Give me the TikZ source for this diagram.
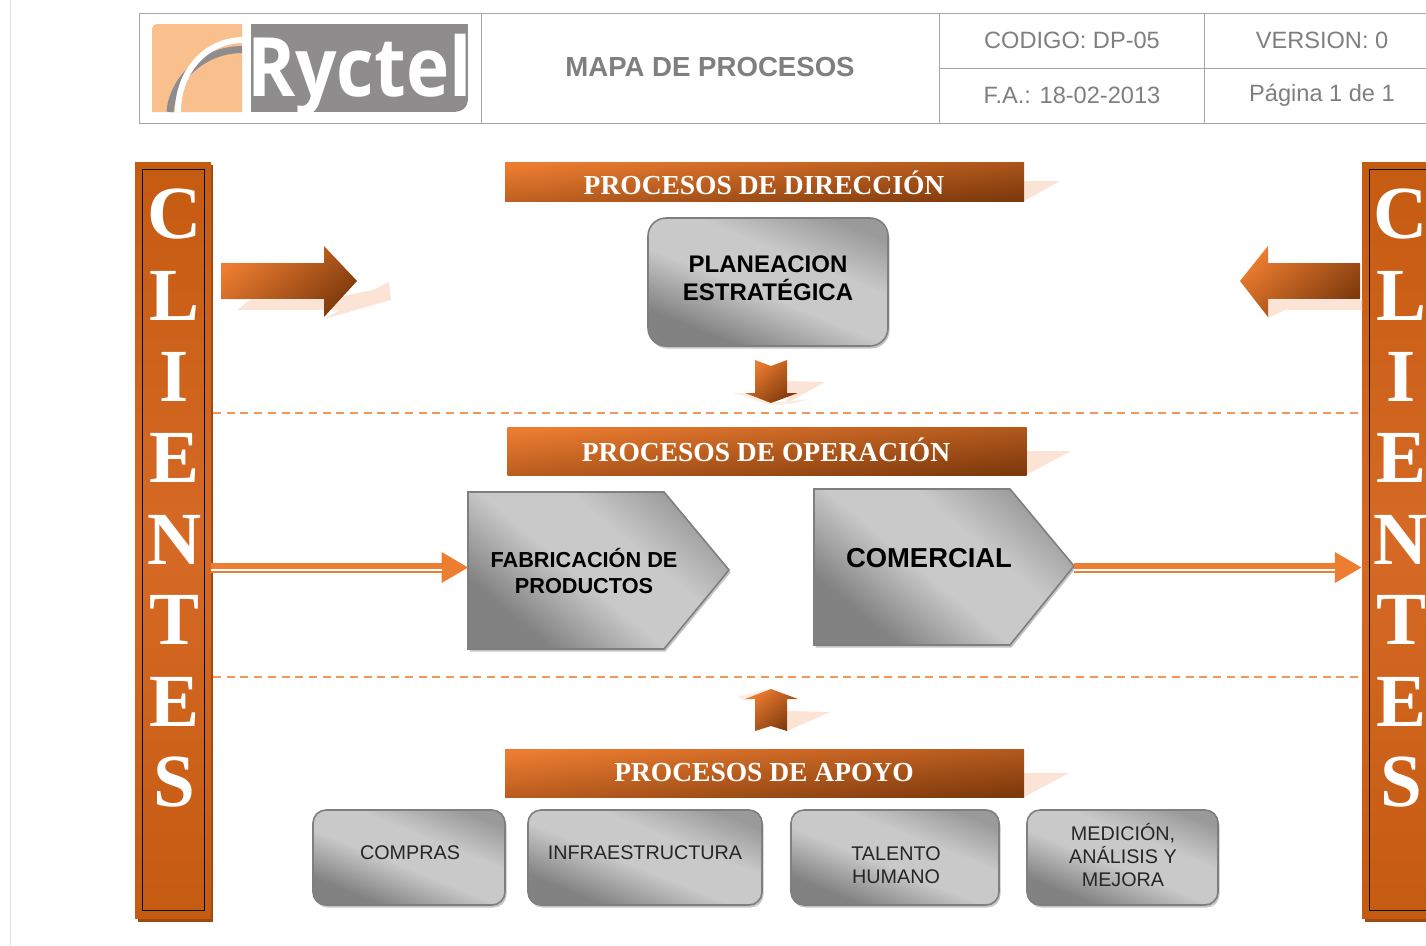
\documentclass[tikz,border=0pt]{standalone}
\usepackage{fontspec}
\setmainfont{Liberation Serif}
\newfontfamily\arialfont{Liberation Sans}
\newfontfamily\logofont{Open Sans}
\usetikzlibrary{arrows.meta, shadows}
\definecolor{orangelight}{HTML}{EC7C30}
\definecolor{orangedark}{HTML}{7F3A0C}
\definecolor{orangebar}{HTML}{C55A11}
\definecolor{orangemid}{HTML}{D66A25}
\definecolor{orangeline}{HTML}{ED7D31}
\definecolor{barshadow}{HTML}{9C4A10}
\definecolor{peach}{HTML}{FBE4D5}
\definecolor{logopeach}{HTML}{F9C08E}
\definecolor{logogray}{HTML}{8E8C8D}
\definecolor{tablegray}{HTML}{A6A6A6}
\definecolor{textgray}{HTML}{7F7F7F}
\definecolor{boxdark}{HTML}{828282}
\definecolor{boxlight}{HTML}{C9C9C9}
\definecolor{boxmid}{HTML}{9A9A9A}
\pgfdeclareverticalshading{grayband}{100bp}{color(0bp)=(boxdark); color(28bp)=(boxdark); color(46bp)=(boxlight); color(60bp)=(boxlight); color(76bp)=(boxmid); color(100bp)=(boxmid)}
\newcommand{\fsz}[1]{\fontsize{#1}{#1}\selectfont}
\tikzset{
	orangefill/.style={left color=orangelight, right color=orangedark, shading angle=40},
	grayfill/.style={shading=grayband, shading angle=-40},
	boxshadow/.style={drop shadow={shadow xshift=1.5pt, shadow yshift=-2.5pt, fill=gray, opacity=0.45}},
	grayedge/.style={draw=textgray, line width=1.6pt},
	graybox/.style={grayfill, shading angle=-22, grayedge, boxshadow, rounded corners=13pt},
	banner/.style={orangefill, shading angle=6, minimum width=519pt, inner sep=0pt},
	bannertext/.style={text=white, font=\bfseries\fsz{27.5}},
	tabletext/.style={text=textgray, font=\arialfont\fsz{23.6}},
	boxtext/.style={text=black!85, align=center, font=\arialfont\fontsize{19.75}{23}\selectfont},
	boldtext/.style={text=black, align=center, font=\arialfont\bfseries},
	sidebar/.style={draw=none, top color=orangebar, bottom color=orangebar, middle color=orangemid, minimum width=76pt, minimum height=756pt, inner sep=0pt},
	sideletter/.style={text=white, font=\bfseries\fsz{75}},
	linkarrow/.style={draw=orangeline, line width=10pt, -{Triangle[length=27pt, width=29pt, fill=orangeline]}},
	linkgap/.style={draw=white, line width=1.2pt},
	divider/.style={draw=orangeline!80, line width=2pt, dash pattern=on 8pt off 5.7pt}
}
\begin{document}
\begin{tikzpicture}[x=1pt, y=-1pt]
	\path[use as bounding box, clip] (0,0) rectangle (1426,945);
	\fill[white] (0,0) rectangle (1426,945);
	\draw[gray!25, line width=1pt] (10,0) -- (10,945);

	% Header table
	\draw[tablegray, line width=0.9pt] (139,13) rectangle (1432,123);
	\foreach \x in {481,939,1204} {
		\draw[tablegray, line width=0.9pt] (\x,13) -- (\x,123);
	}
	\draw[tablegray, line width=0.9pt] (939,68) -- (1432,68);
	\node[tabletext, text=textgray, font=\arialfont\bfseries\fsz{27.6}] (title) at (710,67) {MAPA DE PROCESOS};
	\node[tabletext] (codigo) at (1072,40) {CODIGO: DP-05};
	\node[tabletext] (version) at (1322,40) {VERSION: 0};
	\node[tabletext] (fecha) at (1072,95.5) {F.A.: 18-02-2013};
	\node[tabletext] (pagina) at (1322,95.5) {Página 1 de 1};

	% Logo
	\fill[logopeach] (152,112) -- (152,30) .. controls (152,26) and (154,24) .. (158,24) -- (242,24) -- (242,112) -- cycle;
	\draw[logogray, line width=7pt] (170,112) .. controls (172,82) and (200,50) .. (242,49.5);
	\draw[white, line width=6pt] (178,112) .. controls (178,72) and (205,41) .. (242,40);
	\begin{scope}
		\clip (251,24) -- (468,24) -- (468,98) .. controls (468,108) and (462,112) .. (452,112) -- (251,112) -- cycle;
		\fill[logogray] (251,24) rectangle (468,112);
		\node[anchor=base west, inner sep=0pt, text=white, font=\logofont\bfseries\fsz{82}] (logo) at (247,96) {\scalebox{0.89}[1]{Ryctel}};
	\end{scope}

	% Clients bars
	\fill[barshadow] (137.5,165) rectangle (213,921.5);
	\fill[barshadow] (1364.5,165) rectangle (1440,921.5);
	\node[sidebar] (clientesL) at (173,540) {};
	\node[sidebar] (clientesR) at (1400,540) {};
	\draw[black, line width=0.9pt] (142.5,169) rectangle (204.7,910.7);
	\draw[black, line width=0.9pt] (1369.5,169) rectangle (1440,910.7);
	\foreach \c/\y/\n in {C/214/1, L/296/2, I/377/3, E/458/4, N/540/5, T/620/6, E/702/7, S/782/8} {
		\node[sideletter] (letraL\n) at (174.5,\y) {\c};
		\node[sideletter] (letraR\n) at (1401,\y) {\c};
	}

	% Dividers
	\draw[divider] (213,412.5) -- (1360,412.5);
	\draw[divider] (213,677) -- (1360,677);

	% Banner shadows
	\fill[peach] (1024,181) -- (1060,181) -- (1024,201) -- cycle;
	\fill[peach] (1026,451) -- (1071,451) -- (1026,475) -- cycle;
	\fill[peach] (1024,773) -- (1069,773) -- (1024,797) -- cycle;

	% Banners
	\node[banner, minimum height=39pt] (direccion) at (764.5,181.5) {};
	\node[bannertext] at (764,183) {PROCESOS DE DIRECCIÓN};
	\node[banner, minimum height=48pt] (operacion) at (767,451) {};
	\node[bannertext] at (766,450) {PROCESOS DE OPERACIÓN};
	\node[banner, minimum height=48pt] (apoyo) at (764.5,773) {};
	\node[bannertext] at (764,772.5) {PROCESOS DE APOYO};

	% Side arrows
	\fill[peach] (237,310) -- (250,300) -- (324,300) -- (373,290) -- (389,282) -- (391,300) -- (324,319) -- (340,310) -- cycle;
	\shade[orangefill] (221,263) -- (324,263) -- (324,246) -- (357,281) -- (324,317) -- (324,299) -- (221,299) -- cycle;
	\fill[peach] (1268,318) -- (1285,310) -- (1362,310) -- (1362,300) -- (1268,300) -- cycle;
	\shade[orangefill] (1240,281) -- (1268,246) -- (1268,263) -- (1360,263) -- (1360,299) -- (1268,299) -- (1268,317) -- cycle;

	% Small arrows
	\fill[peach] (787,381) -- (825,382) -- (787,403) -- cycle;
	\fill[peach!70] (733,393) -- (745,393) -- (771,403) -- (810,399) -- (790,404) -- (771,405) -- cycle;
	\shade[orangefill] (755,360) -- (771,366) -- (787,360) -- (787,393) -- (798,393) -- (771,403) -- (745,393) -- (755,393) -- cycle;
	\fill[peach] (787,711) -- (830,712) -- (787,731) -- cycle;
	\fill[peach!70] (737,697) -- (771,688) -- (745,700) -- cycle;
	\shade[orangefill] (771,689) -- (798,699) -- (787,699) -- (787,731) -- (771,726) -- (755,731) -- (755,699) -- (745,699) -- cycle;

	% Strategic box
	\node[graybox, minimum width=240pt, minimum height=128pt, rounded corners=18pt] (planeacion) at (768,282) {};
	\node[boldtext, font=\arialfont\bfseries\fsz{24}] (planeaciontext) at (768,278.5) {PLANEACION\\[4pt]ESTRATÉGICA};

	% Operation pentagons
	\path[grayfill, grayedge, boxshadow] (468,492) -- (664,492) -- (729,570) -- (664,649) -- (468,649) -- cycle;
	\path[grayfill, grayedge, boxshadow] (814,489) -- (1010,489) -- (1074,566) -- (1010,645) -- (814,645) -- cycle;
	\coordinate (fabin) at (468.5,567.5);
	\coordinate (comout) at (1074,567.5);
	\node[boldtext, font=\arialfont\bfseries\fsz{21.7}] (fabricacion) at (584,571) {FABRICACIÓN DE\\[5pt]PRODUCTOS};
	\node[boldtext, font=\arialfont\bfseries\fsz{27.4}] (comercial) at (929,558) {COMERCIAL};

	% Flow arrows
	\draw[linkarrow] (clientesL.east |- fabin) -- (fabin);
	\draw[linkgap] ([yshift=-2.5pt]clientesL.east |- fabin) -- ([xshift=-27pt, yshift=-2.5pt]fabin);
	\draw[linkarrow] (comout) -- (clientesR.west |- comout);
	\draw[linkgap] ([yshift=-2.5pt]comout) -- ([xshift=-27pt, yshift=-2.5pt]clientesR.west |- comout);

	% Support boxes
	\foreach \name/\cx/\w in {compras/409/192, infra/645/234, talento/895/208, medicion/1122.5/191} {
		\node[graybox, minimum width=\w pt, minimum height=95pt] (\name) at (\cx,857.5) {};
	}
	\node[boxtext] (comprastext) at (410,853) {COMPRAS};
	\node[boxtext] (infratext) at (645,853) {INFRAESTRUCTURA};
	\node[boxtext] (talentotext) at (896,865.5) {TALENTO\\HUMANO};
	\node[boxtext] (mediciontext) at (1123,855) {MEDICIÓN,\\ANÁLISIS Y\\MEJORA};
\end{tikzpicture}
\end{document}
